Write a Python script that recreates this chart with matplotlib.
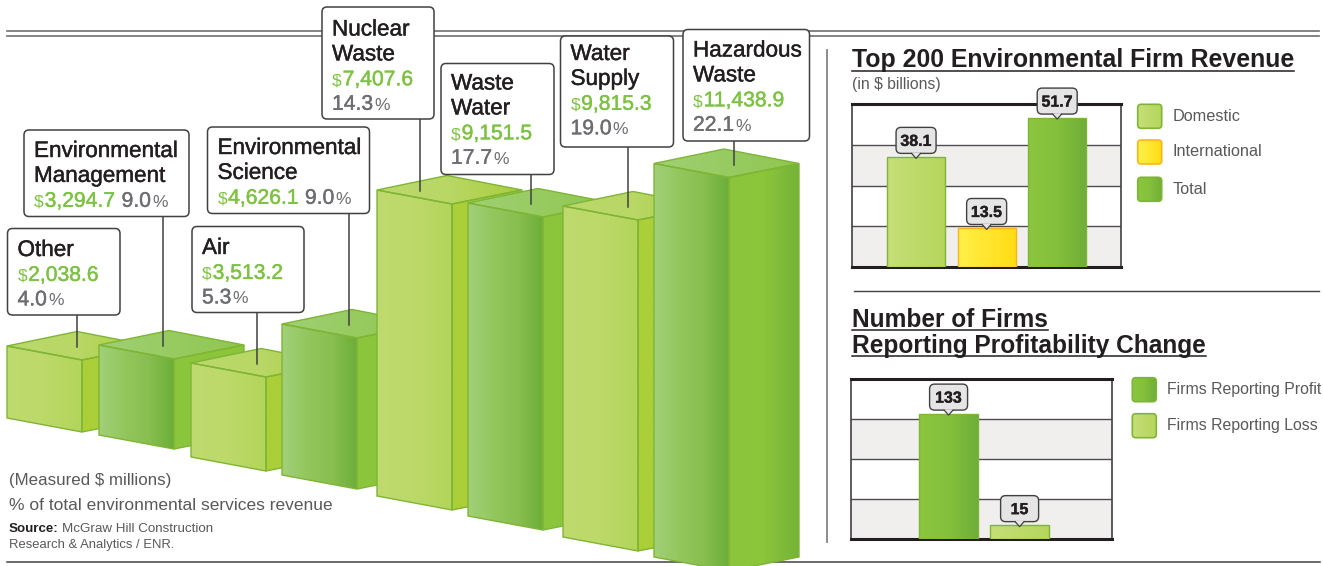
import numpy as np
import matplotlib
matplotlib.use("Agg")
import matplotlib.pyplot as plt
import matplotlib.patheffects as pe
from matplotlib.colors import LinearSegmentedColormap
from matplotlib.patches import FancyBboxPatch, Polygon

plt.rcParams["font.family"] = ["Liberation Sans", "DejaVu Sans"]

# main chart data, left to right
sector_names = [["Other"], ["Environmental", "Management"], ["Air"],
                ["Environmental", "Science"], ["Nuclear", "Waste"],
                ["Waste", "Water"], ["Water", "Supply"], ["Hazardous", "Waste"]]
sector_revenue = ["2,038.6", "3,294.7", "3,513.2", "4,626.1", "7,407.6", "9,151.5", "9,815.3", "11,438.9"]
sector_share = ["4.0", "9.0", "5.3", "9.0", "14.3", "17.7", "19.0", "22.1"]
# the bars in the picture are not to scale, so these are the drawn heights
bar_heights = [72, 90, 94, 151, 306, 313, 331, 393.5]
bar_is_dark = [False, True, False, True, False, True, False, True]

revenue_labels = ["Domestic", "International", "Total"]
revenue_values = [38.1, 13.5, 51.7]

firm_labels = ["Firms Reporting Profit", "Firms Reporting Loss"]
firm_values = [133, 15]

# layout of the 3d bars
bar_left = [7, 99, 191, 282, 377, 468, 563, 654]
bar_bottom = [418, 435, 457, 475, 496, 516, 537, 557]

# box layout: x0, y0, x1, y1, first baseline, leader x
box_layout = [
    (7.5, 228.5, 120, 315, 256, 76.5),
    (24, 130, 189, 216.5, 157, 163),
    (192, 226.5, 304, 312.5, 254, 256.5),
    (207.5, 127, 369.5, 213.5, 154, 348.5),
    (322, 7, 434, 119, 35.5, 420),
    (441, 63.5, 554, 174.5, 89.5, 530.5),
    (560.5, 36, 673.5, 147, 60, 627.5),
    (683, 29.5, 809.5, 141, 56.5, 734),
]

DARK = "#231f20"
GREY = "#6d6e71"
GREEN = "#7dc242"
BODY = "#58595b"
LIME_CMAP = ["#c6de78", "#b5d65c"]
GREEN_CMAP = ["#8cc63f", "#84c03c", "#6fae38"]
YELLOW_CMAP = ["#fff04a", "#ffdc14"]

fig = plt.figure(figsize=(13.23, 5.66), dpi=100)
fig.patch.set_facecolor("white")


def pixel_axes(x0, y0, x1, y1):
    return fig.add_axes([x0 / 1323, 1 - y1 / 566, (x1 - x0) / 1323, (y1 - y0) / 566])


over = fig.add_axes([0, 0, 1, 1], zorder=10)
over.set_xlim(0, 1323)
over.set_ylim(566, 0)
over.axis("off")
over.patch.set_alpha(0)
over.autoscale(False)


def fill_gradient(ax, patch, x0, x1, y0, y1, colors, z):
    cmap = LinearSegmentedColormap.from_list("g", colors)
    xl, yl = ax.get_xlim(), ax.get_ylim()
    im = ax.imshow(np.linspace(0, 1, 256)[None, :], cmap=cmap, aspect="auto", zorder=z,
                   extent=(x0, x1, y1, y0), interpolation="bilinear", vmin=0, vmax=1)
    im.set_clip_path(patch)
    ax.set_xlim(xl)
    ax.set_ylim(yl)


def gradient(ax, pts, colors, z, edge="#7fb536", lw=1.0):
    pts = np.array(pts, dtype=float)
    poly = Polygon(pts, closed=True, fc="none", ec=edge, lw=lw, zorder=z + 0.1, transform=ax.transData)
    ax.add_patch(poly)
    fill_gradient(ax, poly, pts[:, 0].min(), pts[:, 0].max(), pts[:, 1].min(), pts[:, 1].max(), colors, z)


def runs(x, y, parts, z=61):
    r = fig.canvas.get_renderer()
    for txt, col, size, stroke in parts:
        t = over.text(x, y, txt, color=col, fontsize=size, va="baseline", ha="left", zorder=z)
        if stroke:
            t.set_path_effects([pe.withStroke(linewidth=stroke, foreground=col)])
        bb = t.get_window_extent(r)
        x += bb.width + size * 0.08


# rules
over.plot([7, 1319], [30.7, 30.7], color="#6d6e71", lw=1.2, zorder=1)
over.plot([7, 1319], [36, 36], color="#6d6e71", lw=1.2, zorder=1)
over.plot([7, 1320], [562, 562], color="#414042", lw=1.1, zorder=1)
over.plot([827, 827], [50, 542], color="#808285", lw=1.3, zorder=1)
over.plot([854, 1319], [291.3, 291.3], color="#414042", lw=1.0, zorder=1)

# 3d bars
FRONT, DEPTH, RISE, DROP = 75, 70, 14.5, 14
for i, h in enumerate(bar_heights):
    x = bar_left[i]
    bottom = bar_bottom[i]
    top = bottom - h
    z = 10 + i * 2
    if bar_is_dark[i]:
        front_c = ["#a2d078", "#93c75e", "#88bf4f", "#6cae3a"]
        side_c = ["#8cc63c", "#8ac53a", "#75b338"] if i == 7 else ["#8cc63c", "#8ac53a"]
        top_c = ["#9fd074", "#8fc74f"]
    else:
        front_c = ["#bfda6e", "#bcd969", "#b3d55a"]
        side_c = ["#abcf38", "#abcf38"]
        top_c = ["#bbd96c", "#b8d765", "#a9cd3c"]
    gradient(over, [(x, top), (x + FRONT, top + DROP), (x + FRONT, bottom + DROP), (x, bottom)], front_c, z)
    gradient(over, [(x + FRONT, top + DROP), (x + FRONT + DEPTH, top),
                    (x + FRONT + DEPTH, bottom), (x + FRONT, bottom + DROP)], side_c, z)
    gradient(over, [(x, top), (x + DEPTH, top - RISE), (x + FRONT + DEPTH, top), (x + FRONT, top + DROP)], top_c, z)

# labels on the 3d bars
for i, (x0, y0, x1, y1, base, lead) in enumerate(box_layout):
    top = bar_bottom[i] - bar_heights[i]
    over.plot([lead, lead], [y1, top + 1], color="#414042", lw=1.1, zorder=55)
    over.add_patch(FancyBboxPatch((x0, y0), x1 - x0, y1 - y0, boxstyle="round,pad=0,rounding_size=5",
                                  fc="white", ec="#414042", lw=1.1, zorder=60))
    tx = x0 + 10
    line = base
    for name in sector_names[i]:
        runs(tx, line, [(name, DARK, 16.2, 0.3)])
        line += 24.9
    money = [("$", GREEN, 12.5, 0), (sector_revenue[i], GREEN, 15.2, 0.3)]
    pct = [(sector_share[i], GREY, 15.2, 0.3), ("%", GREY, 12.5, 0)]
    if i in (1, 3):
        runs(tx, line, money + [("  ", GREY, 6, 0)] + pct)
    else:
        runs(tx, line, money)
        runs(tx, line + 24.5, pct)

# footnotes
over.text(9, 485.5, "(Measured $ millions)", color=BODY, fontsize=12.2, zorder=61)
over.text(9, 510, "% of total environmental services revenue", color=BODY, fontsize=12.5, zorder=61)
over.text(9, 532.5, "Source:", color=DARK, fontsize=9.6, fontweight="bold", zorder=61)
over.text(62, 532.5, "McGraw Hill Construction", color=BODY, fontsize=9.6, zorder=61)
over.text(9, 548, "Research & Analytics / ENR.", color=BODY, fontsize=9.4, zorder=61)


def small_chart(box, values, colors, pos, width, ymax, xlim):
    ax = pixel_axes(*box)
    ax.set_xlim(*xlim)
    ax.set_ylim(0, ymax)
    ax.axhspan(0, ymax / 4, color="#f1eeee", lw=0, zorder=0)
    ax.axhspan(ymax / 2, ymax * 3 / 4, color="#f1eeee", lw=0, zorder=0)
    for k in (1, 2, 3):
        ax.axhline(ymax * k / 4, color="#4d4d4f", lw=1.0, zorder=1)
    ax.set_xticks([])
    ax.set_yticks([])
    for side in ("left", "right"):
        ax.spines[side].set_linewidth(1.2)
        ax.spines[side].set_color("#414042")
    for side in ("top", "bottom"):
        ax.spines[side].set_linewidth(2.2)
        ax.spines[side].set_color("#231f20")
    ax.autoscale(False)
    bars = ax.bar(pos, values, width=width, color="none", edgecolor="none", zorder=3)
    for b, c in zip(bars, colors):
        edge = "#f7b51c" if c is YELLOW_CMAP else "#7fb536"
        xa, xb = b.get_x(), b.get_x() + b.get_width()
        h = b.get_height()
        gradient(ax, [(xa, 0), (xb, 0), (xb, h), (xa, h)], c, 3, edge=edge)
    return ax, bars


def callout(ax, bar, text, w=40):
    cx, cy = over.transData.inverted().transform(
        ax.transData.transform((bar.get_x() + bar.get_width() / 2, bar.get_height())))
    y1 = cy - 3.5
    y0 = y1 - 26
    c = "#e6e5e5"
    over.add_patch(FancyBboxPatch((cx - w / 2, y0), w, y1 - y0, boxstyle="round,pad=0,rounding_size=5",
                                  fc=c, ec="#414042", lw=1.0, zorder=30))
    over.add_patch(Polygon([(cx - 4.5, y1 - 0.8), (cx + 4.5, y1 - 0.8), (cx, y1 + 5)], fc=c, ec="none", zorder=31))
    over.plot([cx - 4.5, cx, cx + 4.5], [y1, y1 + 5, y1], color="#414042", lw=0.9, zorder=32)
    t = over.text(cx, y0 + 18.5, text, ha="center", va="baseline", color=DARK, fontsize=11.5,
                  fontweight="bold", zorder=33)
    t.set_path_effects([pe.withStroke(linewidth=0.25, foreground=DARK)])


def heading(x, y, text, size):
    t = over.text(x, y, text, color=DARK, fontsize=size, fontweight="bold", zorder=61)
    w = t.get_window_extent(fig.canvas.get_renderer()).width
    over.plot([x, x + w], [y + 3.2, y + 3.2], color=DARK, lw=1.1, zorder=61)


def swatch(x, y, colors, label, size, edge="#7fb536"):
    box = FancyBboxPatch((x, y), 24, 24, boxstyle="round,pad=0,rounding_size=3.5", fc="none",
                         ec=edge, lw=1.2, zorder=20.1)
    over.add_patch(box)
    fill_gradient(over, box, x, x + 24, y, y + 24, colors, 20)
    over.text(x + 34.5, y + 12, label, color=BODY, fontsize=size, va="center", ha="left", zorder=61)


# revenue panel
heading(852, 67.3, "Top 200 Environmental Firm Revenue", 17.9)
over.text(852, 88.5, "(in $ billions)", color=BODY, fontsize=11.3, zorder=61)
rev_colors = [LIME_CMAP, YELLOW_CMAP, GREEN_CMAP]
ax1, bars1 = small_chart((851.7, 104, 1120.7, 267), revenue_values, rev_colors,
                         [0, 1, 2], 0.82, 56.4, (-0.912, 2.9))
for b, v in zip(bars1, revenue_values):
    callout(ax1, b, f"{v:.1f}")
for y, c, lab in zip([104.3, 140, 177.3], rev_colors, revenue_labels):
    swatch(1137.7, y, c, lab, 11.7, edge="#f7b51c" if c is YELLOW_CMAP else "#7fb536")

# firms panel
heading(852, 326.7, "Number of Firms", 17.65)
heading(852, 353, "Reporting Profitability Change", 17.65)
firm_colors = [GREEN_CMAP, LIME_CMAP]
ax2, bars2 = small_chart((851.3, 379.3, 1111.7, 539.3), firm_values, firm_colors,
                         [0, 1], 0.824, 169.3, (-1.37, 2.297))
for b, v in zip(bars2, firm_values):
    callout(ax2, b, str(v), w=38)
for y, c, lab in zip([377.7, 413.7], firm_colors, firm_labels):
    swatch(1132.3, y, c, lab, 11.4)

fig.savefig("out.png", dpi=100)
